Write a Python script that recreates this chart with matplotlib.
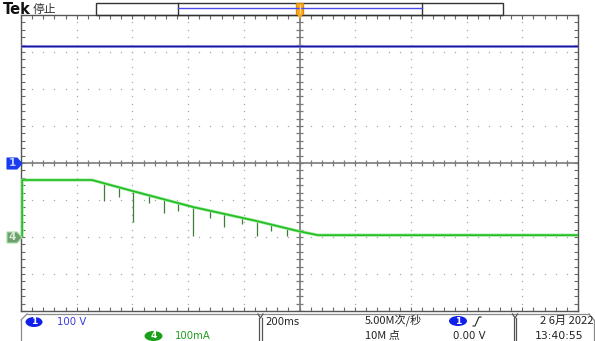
import numpy as np
import matplotlib
matplotlib.use("Agg")
import matplotlib.pyplot as plt
from matplotlib.patches import Polygon, Rectangle, FancyBboxPatch, Ellipse

# ---- acquisition settings ----
time_per_div_ms = 200
ch1_volts_per_div = 100
ch4_ma_per_div = 100
ch1_offset_div = 0.0
ch4_offset_div = -2.0

# ---- channel 1 (voltage, V) ----
ch1_time_ms = [-1000, 1000]
ch1_volts = [316, 316]

# ---- channel 4 (current, mA) ----
ch4_time_ms = [-996, -996, -745, -598, -382, -153, -5, 66, 1000]
ch4_ma = [0, 154, 154, 124, 81, 43, 16, 5, 5]

# downward glitches on the current ramp
spike_time_ms = [-702, -648, -598, -540, -487, -436, -382, -321, -271, -206, -153, -102, -45]
spike_min_ma = [97, 108, 41, 92, 65, 70, 3, 51, 27, 35, 3, 16, 3]

W, H = 595, 341
fig = plt.figure(figsize=(W / 100, H / 100), dpi=100)
fig.patch.set_facecolor("white")

# graticule box in pixels
gx0, gx1, gy0, gy1 = 21, 578, 15, 311
ax = fig.add_axes([gx0 / W, 1 - gy1 / H, (gx1 - gx0) / W, (gy1 - gy0) / H])
ax.set_xlim(-5, 5)
ax.set_ylim(-4, 4)
ax.set_facecolor("white")

# dotted graticule
for xv in range(-4, 5):
    ys = np.arange(-4, 4.001, 0.2)
    ax.plot(np.full_like(ys, xv), ys, linestyle="none", marker="s", ms=0.9,
            mec="none", mfc="#a8a8a8", zorder=1)
for yv in range(-3, 4):
    xs = np.arange(-5, 5.001, 0.2)
    ax.plot(xs, np.full_like(xs, yv), linestyle="none", marker="s", ms=0.9,
            mec="none", mfc="#a8a8a8", zorder=1)

# centre cross with minor ticks
ax.axhline(0, color="#7a7a7a", lw=1.2, zorder=2)
ax.axvline(0, color="#7a7a7a", lw=1.2, zorder=2)
xs = np.arange(-5, 5.001, 0.2)
ax.vlines(xs, -0.08, 0.08, color="#7a7a7a", lw=0.9, zorder=2)
ys = np.arange(-4, 4.001, 0.2)
ax.hlines(ys, -0.055, 0.055, color="#7a7a7a", lw=0.9, zorder=2)

# border ticks
ax.xaxis.set_major_locator(matplotlib.ticker.MultipleLocator(1))
ax.xaxis.set_minor_locator(matplotlib.ticker.MultipleLocator(0.2))
ax.yaxis.set_major_locator(matplotlib.ticker.MultipleLocator(1))
ax.yaxis.set_minor_locator(matplotlib.ticker.MultipleLocator(0.2))
ax.tick_params(which="both", direction="in", length=3, width=0.8, color="#6a6a6a",
               top=True, right=True, labelbottom=False, labelleft=False)
for s in ax.spines.values():
    s.set_color("#555555")
    s.set_linewidth(1.0)

# channel 1 trace
t1 = np.array(ch1_time_ms) / time_per_div_ms
v1 = np.array(ch1_volts) / ch1_volts_per_div + ch1_offset_div
ax.plot(t1, v1, color="#7a7aee", lw=1.9, zorder=4, solid_capstyle="butt")
ax.plot(t1, v1, color="#1a1a8c", lw=0.9, zorder=5, solid_capstyle="butt")

# channel 4 trace
t4 = np.array(ch4_time_ms) / time_per_div_ms
i4 = np.array(ch4_ma) / ch4_ma_per_div + ch4_offset_div
st = np.array(spike_time_ms) / time_per_div_ms
top = np.interp(st, t4[1:], i4[1:])
bot = np.array(spike_min_ma) / ch4_ma_per_div + ch4_offset_div
ax.vlines(st, bot, top, color="#3c7d3c", lw=0.9, zorder=5)
ax.plot(t4, i4, color="#9ae49a", lw=2.2, zorder=6, solid_capstyle="butt")
ax.plot(t4, i4, color="#22c022", lw=1.2, zorder=7, solid_capstyle="butt")

# ---- overlay in pixel coordinates ----
ov = fig.add_axes([0, 0, 1, 1], zorder=10)
ov.set_xlim(0, W)
ov.set_ylim(H, 0)
ov.axis("off")
ov.patch.set_alpha(0)

cjk = ["Noto Sans CJK SC", "DejaVu Sans"]

# header
ov.text(3, 9, "Tek", fontsize=10.5, fontweight="bold", family="DejaVu Sans",
        va="center", ha="left", color="#111111")
ov.text(33, 9, "停止", fontsize=8.5, family=cjk, va="center", ha="left", color="#333333")

# record-length bar
ov.add_patch(Rectangle((96, 3), 407, 12, fill=False, ec="#333333", lw=1.0))
ov.plot([178, 178], [3, 15], color="#333333", lw=1.0)
ov.plot([422, 422], [3, 15], color="#333333", lw=1.0)
ov.plot([178, 422], [8, 8], color="#4a4af0", lw=1.0)

# trigger position marker
ov.add_patch(FancyBboxPatch((297, 4), 6, 10, boxstyle="round,pad=0.6",
                            fc="#f5a623", ec="#e08a00", lw=0.8))
ov.plot([300, 300], [5, 13], color="#ffd27a", lw=1.0)
ov.add_patch(Polygon([[297, 14], [303, 14], [300, 19]], closed=True, fc="#f5a623", ec="none"))

# channel ground markers
ov.add_patch(Polygon([[7, 158], [17, 158], [22, 163.5], [17, 169], [7, 169]],
                     closed=True, fc="#1a3cf0", ec="#1a3cf0", lw=0.8))
ov.text(12, 163.5, "1", fontsize=7.5, fontweight="bold", color="#c9cff7",
        ha="center", va="center")
ov.add_patch(Polygon([[7, 232], [17, 232], [22, 237.5], [17, 243], [7, 243]],
                     closed=True, fc="#6f9f6f", ec="#a6e0a6", lw=0.8))
ov.text(12, 237.5, "4", fontsize=7.5, fontweight="bold", color="#d6ecd6",
        ha="center", va="center")

# status panel frame
pc = "#8a8a8a"
ov.plot([27, 589], [314, 314], color=pc, lw=0.9)
ov.plot([21, 21], [320, 341], color=pc, lw=0.9)
ov.plot([21, 27], [320, 314], color=pc, lw=0.9)
ov.plot([594, 594], [320, 341], color=pc, lw=0.9)
ov.plot([589, 594], [314, 320], color=pc, lw=0.9)
for sx in (260.5, 515):
    ov.plot([sx - 2.5, sx, sx + 2.5], [314, 318, 314], color="#555555", lw=0.9)
    ov.plot([sx - 1.2, sx - 1.2], [318, 341], color="#555555", lw=0.9)
    ov.plot([sx + 1.2, sx + 1.2], [318, 341], color="#555555", lw=0.9)

fs = 7.3
# channel readouts
ov.add_patch(Ellipse((34, 322), 17, 10, fc="#1020e8", ec="none"))
ov.text(34, 322, "1", fontsize=6.5, fontweight="bold", color="white", ha="center", va="center")
ov.text(57, 322, "100 V", fontsize=fs, color="#3a3ae0", ha="left", va="center")
ov.add_patch(Ellipse((153.5, 336), 18, 10, fc="#1aa01a", ec="none"))
ov.text(153.5, 336, "4", fontsize=6.5, fontweight="bold", color="white", ha="center", va="center")
ov.text(175, 336, "100mA", fontsize=fs, color="#1f9f1f", ha="left", va="center")

# timebase and acquisition
ov.text(265, 322, "200ms", fontsize=fs, color="#222222", ha="left", va="center")
ov.text(365, 321, "5.00M次/秒", fontsize=8.0, family=cjk, color="#222222", ha="left", va="center")
ov.text(365, 336, "10M 点", fontsize=8.0, family=cjk, color="#222222", ha="left", va="center")

# trigger readout
ov.add_patch(Ellipse((458, 321), 18, 10, fc="#1020e8", ec="none"))
ov.text(458, 321, "1", fontsize=6.5, fontweight="bold", color="white", ha="center", va="center")
ov.plot([473, 475, 479, 481], [326, 326, 317, 317], color="#222222", lw=0.8)
ov.text(453, 336, "0.00 V", fontsize=fs, color="#222222", ha="left", va="center")

# date / time
ov.text(593, 321, "2 6月 2022", fontsize=8.0, family=cjk, color="#222222", ha="right", va="center")
ov.text(535, 336, "13:40:55", fontsize=7.8, color="#222222", ha="left", va="center")

fig.savefig("out.png", dpi=100, facecolor="white")
